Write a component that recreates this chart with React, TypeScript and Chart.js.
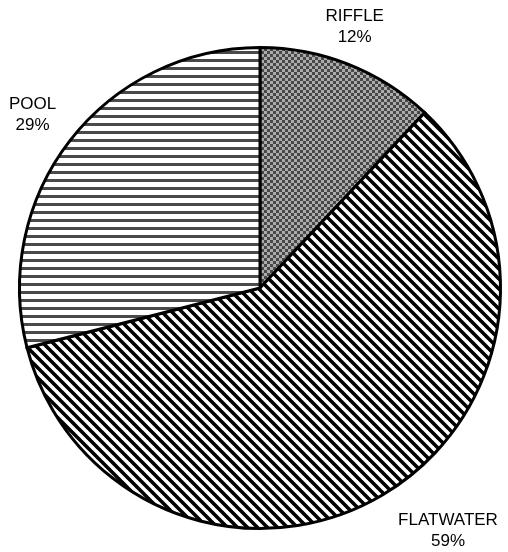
import React, { useEffect, useRef } from "react";
import { Chart, registerables } from "chart.js";

Chart.register(...registerables);

const categories = ["RIFFLE", "FLATWATER", "POOL"];
const percentages = [12, 59, 29];

function tile(size: number, draw: (c: CanvasRenderingContext2D) => void): CanvasPattern | string {
  const cv = document.createElement("canvas");
  cv.width = size;
  cv.height = size;
  const c = cv.getContext("2d");
  if (!c) return "#888";
  draw(c);
  const p = c.createPattern(cv, "repeat");
  return p || "#888";
}

function checkerPattern() {
  return tile(6, (c) => {
    c.fillStyle = "#ababab";
    c.fillRect(0, 0, 6, 6);
    c.fillStyle = "#484848";
    c.fillRect(0, 0, 3, 3);
    c.fillRect(3, 3, 3, 3);
  });
}

function diagonalPattern() {
  const s = 10;
  return tile(s, (c) => {
    c.fillStyle = "#ffffff";
    c.fillRect(0, 0, s, s);
    c.strokeStyle = "#000000";
    c.lineWidth = 3.6;
    c.beginPath();
    for (let k = -1; k <= 1; k++) {
      c.moveTo(k * s - 1, -1);
      c.lineTo(k * s + s + 1, s + 1);
    }
    c.stroke();
  });
}

function horizontalPattern() {
  return tile(8, (c) => {
    c.fillStyle = "#ffffff";
    c.fillRect(0, 0, 8, 8);
    c.fillStyle = "#4a4a4a";
    c.fillRect(0, 3, 8, 3);
  });
}

const FONT = "17px 'Liberation Sans', Arial, sans-serif";
const LINE_H = 21;

const outerLabels = {
  id: "outerLabels",
  afterDatasetsDraw(chart: any, _args: any, opts: any) {
    const ctx = chart.ctx as CanvasRenderingContext2D;
    const meta = chart.getDatasetMeta(0);
    const nudge: number[][] = (opts && opts.nudge) || [];
    ctx.save();
    ctx.font = FONT;
    ctx.fillStyle = "#000";
    ctx.textAlign = "center";
    ctx.textBaseline = "middle";
    meta.data.forEach((arc: any, i: number) => {
      const { x, y, startAngle, endAngle, outerRadius } = arc.getProps(
        ["x", "y", "startAngle", "endAngle", "outerRadius"],
        true
      );
      const mid = (startAngle + endAngle) / 2;
      const dx = Math.cos(mid);
      const dy = Math.sin(mid);
      const lines = [categories[i], percentages[i] + "%"];
      const w = Math.max(...lines.map((t) => ctx.measureText(t).width));
      const h = LINE_H * lines.length;
      const gap = 20;
      const n = nudge[i] || [0, 0];
      const cx = x + dx * (outerRadius + gap) + (dx * w) / 2 + n[0];
      const cy = y + dy * (outerRadius + gap) + (dy * h) / 2 + n[1];
      lines.forEach((t, j) => {
        ctx.fillText(t, cx, cy + (j - (lines.length - 1) / 2) * LINE_H);
      });
    });
    ctx.restore();
  },
};

export default function App() {
  const ref = useRef<HTMLCanvasElement | null>(null);

  useEffect(() => {
    document.body.style.margin = "0";
    const canvas = ref.current;
    if (!canvas) return;
    const chart = new Chart(canvas, {
      type: "pie",
      data: {
        labels: categories,
        datasets: [
          {
            data: percentages,
            backgroundColor: [checkerPattern(), diagonalPattern(), horizontalPattern()] as any,
            borderColor: "#000000",
            borderWidth: 3,
            borderJoinStyle: "miter",
          } as any,
        ],
      },
      options: {
        responsive: false,
        animation: false,
        layout: { padding: { left: 18, top: 46, right: 6, bottom: 22 } },
        plugins: {
          legend: { display: false },
          tooltip: { enabled: false },
          outerLabels: { nudge: [[-12, 1], [30, 1], [-3, -1]] },
        } as any,
      },
      plugins: [outerLabels],
    });
    return () => chart.destroy();
  }, []);

  return (
    <div style={{ width: 508, height: 552, background: "#fff" }}>
      <canvas ref={ref} width={508} height={552} />
    </div>
  );
}
